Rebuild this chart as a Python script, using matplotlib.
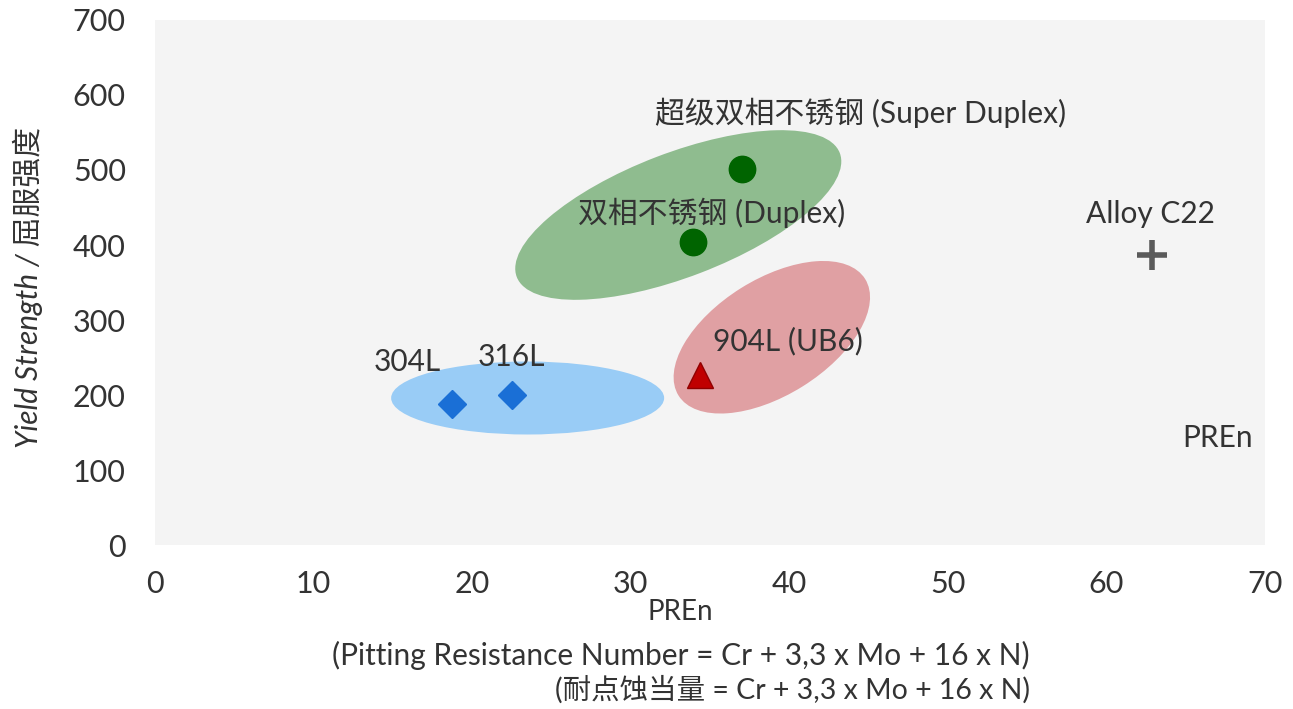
"""Yield strength vs PREn chart for common stainless grades."""

import matplotlib
matplotlib.use("Agg")
from matplotlib import pyplot as plt
from matplotlib.patches import Ellipse
from matplotlib.transforms import ScaledTranslation

# Data
grades = ["304L", "316L", "904L (UB6)", "双相不锈钢 (Duplex)",
          "超级双相不锈钢 (Super Duplex)", "Alloy C22"]
pren = [18.7, 22.5, 34.4, 33.9, 37.0, 62.9]
yield_strength = [188, 200, 227, 404, 501, 387]

# Label anchor positions (data units)
label_x = [15.9, 22.5, 39.9, 35.1, 44.5, 62.8]
label_y = [244, 251, 272, 443, 576, 441]

# Grouping ellipses: centre (data units), full axes (px), tilt (deg)
group_cx = [23.5, 33.0, 38.9]
group_cy = [196, 440, 277]
group_w = [273, 346, 220]
group_h = [73, 124, 116]
group_angle = [0, 21, 32]
group_colors = ["#99ccf6", "#8fbc8f", "#e0a0a3"]

xticks = [0, 10, 20, 30, 40, 50, 60, 70]
yticks = [0, 100, 200, 300, 400, 500, 600, 700]

FONT = ["Lato", "Noto Sans CJK SC", "DejaVu Sans"]
TXT = "#333333"


def main():
    plt.rcParams["font.family"] = FONT
    fig = plt.figure(figsize=(12.93, 7.09), dpi=100)
    ax = fig.add_axes([0.1199, 0.2313, 0.8584, 0.7405])
    ax.set_facecolor("#f4f4f4")
    ax.set_xlim(0, 70)
    ax.set_ylim(0, 700)
    for s in ax.spines.values():
        s.set_visible(False)
    ax.set_xticks(xticks)
    ax.set_yticks(yticks)
    ax.tick_params(length=0, labelsize=22, labelcolor=TXT)
    ax.tick_params(axis="y", pad=21)
    ax.tick_params(axis="x", pad=18)

    # Ellipses are drawn in display units so the tilt is not distorted
    for cx, cy, w, h, ang, col in zip(group_cx, group_cy, group_w, group_h,
                                      group_angle, group_colors):
        tr = fig.dpi_scale_trans + ScaledTranslation(cx, cy, ax.transData)
        e = Ellipse((0, 0), w / 100.0, h / 100.0, angle=ang, transform=tr,
                    facecolor=col, edgecolor="none", zorder=1)
        ax.add_patch(e)

    ax.plot(pren[0:2], yield_strength[0:2], linestyle="none", marker="D",
            markersize=14.5, color="#1a6fd6", zorder=3)
    ax.plot(pren[2], yield_strength[2], linestyle="none", marker="^",
            markersize=19, color="#c00000", markeredgecolor="#900000", zorder=3)
    ax.plot(pren[3:5], yield_strength[3:5], linestyle="none", marker="o",
            markersize=19, color="#006400", zorder=3)
    ax.plot(pren[5], yield_strength[5], linestyle="none", marker="+",
            markersize=22, markeredgewidth=4, color="#5a5a5a", zorder=3)

    for name, lx, ly in zip(grades, label_x, label_y):
        ax.text(lx, ly, name, ha="center", va="center", fontsize=21.5,
                color=TXT, zorder=4)
    ax.text(67.0, 143, "PREn", ha="center", va="center", fontsize=21.5,
            color=TXT, zorder=4)

    ax.set_ylabel("Yield Strength / 屈服强度", fontsize=21.5, color=TXT,
                  style="italic")
    ax.yaxis.set_label_coords(-0.101, 0.49)

    fig.text(680 / 1293.0, 1 - 612 / 709.0, "PREn", ha="center",
             va="center", fontsize=20, color=TXT)
    fig.text(1030 / 1293.0, 1 - 655 / 709.0,
             "(Pitting Resistance Number = Cr + 3,3 x Mo + 16 x N)",
             ha="right", va="center", fontsize=21.5, color=TXT)
    fig.text(1030 / 1293.0, 1 - 690 / 709.0,
             "(耐点蚀当量 = Cr + 3,3 x Mo + 16 x N)",
             ha="right", va="center", fontsize=20.5, color=TXT)

    plt.savefig("out.png", dpi=100)


if __name__ == '__main__':
    main()
